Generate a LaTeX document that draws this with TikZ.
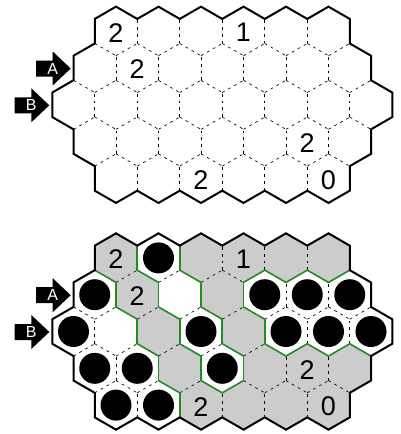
\documentclass[tikz,border=0pt]{standalone}
\usepackage{fontspec}
\setmainfont{Liberation Sans}
\definecolor{cellgray}{HTML}{CCCCCC}
\definecolor{edgegreen}{RGB}{34,139,34}
\tikzset{
  innerdash/.style={draw=black, line width=0.65pt, dash pattern=on 2.8pt off 4pt},
  greenedge/.style={draw=edgegreen, line width=1.6pt, line cap=round},
  outerborder/.style={draw=black, line width=2pt, line join=miter},
  graycell/.style={fill=cellgray, draw=cellgray, line width=0.4pt},
  stone/.style={circle, fill=black, minimum size=31pt, inner sep=0pt},
  clue/.style={font=\fontsize{27}{27}\selectfont, inner sep=0pt, yshift=-1.5pt},
  arrowshape/.style={fill=black},
  arrowlabel/.style={text=white, font=\fontsize{16}{16}\selectfont, inner sep=0pt},
}
\def\HW{21.25}\def\HS{24.54}\def\HH{12.27}
\def\hpass{1}
\newcommand\edgedraw[3]{%
  \edef\hca{\csname cl-#1\endcsname}%
  \edef\hcb{\csname cl-#2\endcsname}%
  \ifx\hca\hcb
    \ifnum\hpass=1 \draw[innerdash] #3;\fi
  \else
    \ifnum\hpass=2 \draw[greenedge] #3;\fi
  \fi}
\newcommand\gridfill[1]{%
  \foreach \r in {0,...,4}{%
    \pgfmathtruncatemacro\hcmin{abs(\r-2)}%
    \pgfmathtruncatemacro\hcnext{\hcmin+2}%
    \pgfmathtruncatemacro\hcmax{14-\hcmin}%
    \foreach \c in {\hcmin,\hcnext,...,\hcmax}{%
      \pgfmathsetmacro\hcx{73.5+21.25*\c}%
      \pgfmathsetmacro\hcy{31.2+36.8*\r}%
      \coordinate (#1-\r-\c) at (\hcx,\hcy);
      \edef\hcc{\csname cl-#1-\r-\c\endcsname}%
      \if G\hcc
        \filldraw[graycell] (\hcx+\HW,\hcy-\HH) -- (\hcx,\hcy-\HS) -- (\hcx-\HW,\hcy-\HH)
          -- (\hcx-\HW,\hcy+\HH) -- (\hcx,\hcy+\HS) -- (\hcx+\HW,\hcy+\HH) -- cycle;
      \fi
    }%
  }%
}
\newcommand\gridedges[1]{%
  \foreach \r in {0,...,4}{%
    \pgfmathtruncatemacro\hcmin{abs(\r-2)}%
    \pgfmathtruncatemacro\hcnext{\hcmin+2}%
    \pgfmathtruncatemacro\hcmax{14-\hcmin}%
    \foreach \c in {\hcmin,\hcnext,...,\hcmax}{%
      \pgfmathsetmacro\hcx{73.5+21.25*\c}%
      \pgfmathsetmacro\hcy{31.2+36.8*\r}%
      \pgfmathtruncatemacro\hcleft{\c-2}%
      \pgfmathtruncatemacro\hrup{\r-1}%
      \pgfmathtruncatemacro\hcul{\c-1}%
      \pgfmathtruncatemacro\hcur{\c+1}%
      \pgfmathtruncatemacro\hokl{\hcleft>=abs(\r-2)}%
      \pgfmathtruncatemacro\hokul{and(\r>0,\hcul>=abs(\r-3))}%
      \pgfmathtruncatemacro\hokur{and(\r>0,\hcur<=14-abs(\r-3))}%
      \ifnum\hokl=1 \edgedraw{#1-\r-\c}{#1-\r-\hcleft}{(\hcx-\HW,\hcy+\HH) -- (\hcx-\HW,\hcy-\HH)}\fi
      \ifnum\hokul=1 \edgedraw{#1-\r-\c}{#1-\hrup-\hcul}{(\hcx-\HW,\hcy-\HH) -- (\hcx,\hcy-\HS)}\fi
      \ifnum\hokur=1 \edgedraw{#1-\r-\c}{#1-\hrup-\hcur}{(\hcx,\hcy-\HS) -- (\hcx+\HW,\hcy-\HH)}\fi
    }%
  }%
}
\newcommand\gridborder{%
  \draw[outerborder] (94.75,18.93) -- (116,6.66) -- (137.25,18.93) -- (158.5,6.66) -- (179.75,18.93)
    -- (201,6.66) -- (222.25,18.93) -- (243.5,6.66) -- (264.75,18.93) -- (286,6.66) -- (307.25,18.93)
    -- (328.5,6.66) -- (349.75,18.93) -- (349.75,43.47) -- (371,55.73) -- (371,80.27) -- (392.25,92.53)
    -- (392.25,117.07) -- (371,129.34) -- (371,153.87) -- (349.75,166.14) -- (349.75,190.67)
    -- (328.5,202.94) -- (307.25,190.67) -- (286,202.94) -- (264.75,190.67) -- (243.5,202.94)
    -- (222.25,190.67) -- (201,202.94) -- (179.75,190.67) -- (158.5,202.94) -- (137.25,190.67)
    -- (116,202.94) -- (94.75,190.67) -- (94.75,166.14) -- (73.5,153.87) -- (73.5,129.34)
    -- (52.25,117.07) -- (52.25,92.53) -- (73.5,80.27) -- (73.5,55.73) -- (94.75,43.47) -- cycle;}
\newcommand\entryarrow[4]{%
  \fill[arrowshape] (#2,#3) -- ++(-18,-17) -- ++(0,9) -- ++(-16.7,0) -- ++(0,16)
    -- ++(16.7,0) -- ++(0,9) -- cycle;
  \node[arrowlabel] (#1) at (#2-18,#3) {#4};}
\newcommand\clues[1]{%
  \node[clue] (#1q1) at (#1-0-2) {2};
  \node[clue] (#1q2) at (#1-0-8) {1};
  \node[clue] (#1q3) at (#1-1-3) {2};
  \node[clue] (#1q4) at (#1-3-11) {2};
  \node[clue] (#1q5) at (#1-4-6) {2};
  \node[clue] (#1q6) at (#1-4-12) {0};}
% cell colours
\foreach \r/\c in {0/2,0/4,0/6,0/8,0/10,0/12,1/1,1/3,1/5,1/7,1/9,1/11,1/13,
  2/0,2/2,2/4,2/6,2/8,2/10,2/12,2/14,3/1,3/3,3/5,3/7,3/9,3/11,3/13,
  4/2,4/4,4/6,4/8,4/10,4/12}{\expandafter\xdef\csname cl-t-\r-\c\endcsname{W}}
\foreach \r/\c/\t in {0/2/G,0/4/W,0/6/G,0/8/G,0/10/G,0/12/G,
  1/1/W,1/3/G,1/5/W,1/7/G,1/9/W,1/11/W,1/13/W,
  2/0/W,2/2/W,2/4/G,2/6/W,2/8/G,2/10/W,2/12/W,2/14/W,
  3/1/W,3/3/W,3/5/G,3/7/W,3/9/G,3/11/G,3/13/G,
  4/2/W,4/4/W,4/6/G,4/8/G,4/10/G,4/12/G}{\expandafter\xdef\csname cl-b-\r-\c\endcsname{\t}}
\begin{document}
\begin{tikzpicture}[x=1pt,y=-1pt]
\fill[white] (0,0) rectangle (400,434);
\useasboundingbox (0,0) rectangle (400,434);
% top grid
\gridfill{t}
\gdef\hpass{1}\gridedges{t}
\gridborder
\clues{t}
\entryarrow{tA}{70.7}{68.5}{A}
\entryarrow{tB}{49.3}{105.3}{B}
% bottom grid
\begin{scope}[shift={(0,226.7)}]
\gridfill{b}
\gdef\hpass{1}\gridedges{b}
\gdef\hpass{2}\gridedges{b}
\gridborder
\clues{b}
\foreach \r/\c in {0/4,1/1,1/9,1/11,1/13,2/0,2/6,2/10,2/12,2/14,3/1,3/3,3/7,4/2,4/4}{
  \node[stone] (s-\r-\c) at (b-\r-\c) {};}
\entryarrow{bA}{70.7}{68.5}{A}
\entryarrow{bB}{49.3}{105.3}{B}
\end{scope}
\end{tikzpicture}
\end{document}
